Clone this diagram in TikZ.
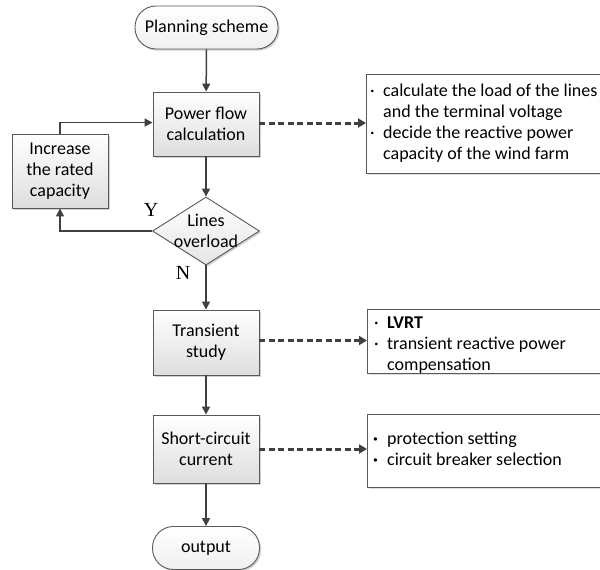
\documentclass[tikz,border=0pt]{standalone}
\usepackage{fontspec}
\setmainfont{Carlito}
\newfontfamily\serifyn{Liberation Serif}
\usetikzlibrary{arrows.meta,shapes.geometric,shadows,calc}
\definecolor{linegray}{HTML}{404040}
\definecolor{edgegray}{HTML}{595959}
\begin{document}
\begin{tikzpicture}[x=1pt,y=-1pt,
  font=\fontsize{18}{21}\selectfont,
  boxfont/.style={font=\fontsize{18}{21}\selectfont},
  procbox/.style={draw=edgegray, line width=0.9pt, rectangle, align=center, boxfont,
    top color=white, bottom color=black!13, inner sep=0pt,
    drop shadow={shadow xshift=1.6pt, shadow yshift=-1.6pt, fill=black!30, opacity=0.6}},
  termbox/.style={procbox, rounded corners=21pt, top color=white, bottom color=black!6},
  notebox/.style={draw=edgegray, line width=0.9pt, rectangle, fill=white, inner sep=0pt,
    drop shadow={shadow xshift=1.4pt, shadow yshift=-1.4pt, fill=black!25, opacity=0.5}},
  flow/.style={draw=linegray, line width=1.5pt, -{Triangle[length=8pt,width=8pt]}},
  hint/.style={draw=linegray, line width=3pt, dash pattern=on 6pt off 3.5pt,
    -{Triangle[length=8pt,width=9pt]}},
  yn/.style={font=\serifyn\fontsize{20}{22}\selectfont, inner sep=0pt}
]
\clip (0,0) rectangle (600,570);

% main chain
\node[termbox, minimum width=143pt, minimum height=43pt] (start) at (206.5,27.5) {Planning scheme};
\node[procbox, minimum width=106pt, minimum height=64pt] (pf) at (206,124) {Power flow\\calculation};
\node[procbox, minimum width=96pt, minimum height=74pt] (inc) at (60,171) {Increase\\the rated\\capacity};
\node[diamond, draw=edgegray, line width=0.9pt, top color=white, bottom color=black!10,
  minimum width=107pt, minimum height=68pt, inner sep=0pt,
  drop shadow={shadow xshift=1.6pt, shadow yshift=-1.6pt, fill=black!30, opacity=0.6}] (dia) at (206,231) {};
\node[align=center, inner sep=0pt, boxfont] (dialabel) at (dia) {Lines\\overload};
\node[procbox, minimum width=106pt, minimum height=65pt] (ts) at (206,342.5) {Transient\\study};
\node[procbox, minimum width=106pt, minimum height=68pt] (sc) at (206,449) {Short-circuit\\current};
\node[termbox, minimum width=107pt, minimum height=43pt] (out) at (206,548) {output};

% notes on the right
\node[notebox, minimum width=250pt, minimum height=99pt, anchor=north west] (n1) at (366,74) {};
\node[notebox, minimum width=250pt, minimum height=64pt, anchor=north west] (n2) at (367,309) {};
\node[notebox, minimum width=250pt, minimum height=73pt, anchor=north west] (n3) at (367,414) {};

\node[anchor=west, inner sep=0pt] (t1) at ($(n1.west)+(1,0)$) {%
  \begin{tabular}{@{}p{16pt}@{}l@{}}
  \,·& calculate the load of the lines\\
     & and the terminal voltage\\
  \,·& decide the reactive power\\
     & capacity of the wind farm
  \end{tabular}};
\node[anchor=west, inner sep=0pt] (t2) at ($(n2.west)+(7,4)$) {%
  \begin{tabular}{@{}p{13pt}@{}l@{}}
  ·& \textbf{LVRT}\\
  ·& transient reactive power\\
   & compensation
  \end{tabular}};
\node[anchor=west, inner sep=0pt] (t3) at ($(n3.west)+(6,0)$) {%
  \begin{tabular}{@{}p{14pt}@{}l@{}}
  \textbf{·}& protection setting\\
  \textbf{·}& circuit breaker selection
  \end{tabular}};

% connectors
\draw[flow] (start) -- (pf);
\draw[flow] (pf) -- (dia);
\draw[flow] (dia.west) -| (inc.south);
\coordinate (loopup) at ($(inc.north)+(0,-11)$);
\draw[flow] (inc.north) -- (loopup) -- (loopup -| pf.west);
\draw[flow] (dia.south) -- (ts.north);
\draw[flow] (ts) -- (sc);
\draw[flow] (sc) -- (out);

\draw[hint] ($(pf.east)+(0,-1)$) -- ($(pf.east -| n1.west)+(0,-1)$);
\draw[hint] ($(ts.east)+(0,-2)$) -- ($(ts.east -| n2.west)+(0,-2)$);
\draw[hint] (sc.east) -- (sc.east -| n3.west);

\node[yn] (ylab) at (151,210) {Y};
\node[yn] (nlab) at (183,273) {N};
\end{tikzpicture}
\end{document}
